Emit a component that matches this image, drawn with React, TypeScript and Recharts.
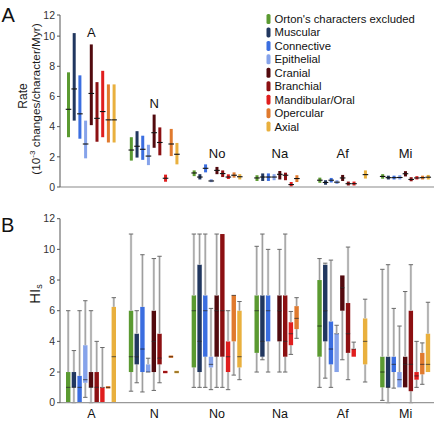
import React from 'react';
import { ComposedChart, Bar, XAxis, YAxis, ReferenceDot } from 'recharts';

// ---------- categories & series ----------
const GROUPS = ['A', 'N', 'No', 'Na', 'Af', 'Mi'];
const SERIES = [
  "Orton's characters excluded",
  'Muscular',
  'Connective',
  'Epithelial',
  'Cranial',
  'Branchial',
  'Mandibular/Oral',
  'Opercular',
  'Axial',
];
const COLORS = ['#5b9a31', '#21375f', '#3b6ee0', '#86a3ea', '#520a0e', '#8c1012', '#e01e1e', '#e07a2e', '#e9b03e'];

// ---------- panel A: rate [min, median, max] per group ----------
type R3 = [number, number, number] | null;
const rateOrton: R3[] = [[3.3, 5.15, 7.6], [1.75, 2.45, 3.3], [0.72, 0.93, 1.1], [0.4, 0.6, 0.78], [0.28, 0.45, 0.62], [0.55, 0.7, 0.85]];
const rateMuscular: R3[] = [[4.4, 6.5, 10.2], [1.95, 2.7, 3.7], [0.5, 0.66, 0.85], [0.4, 0.66, 0.9], [0.15, 0.3, 0.45], [0.5, 0.62, 0.75]];
const rateConnective: R3[] = [[3.2, 4.85, 7.4], [1.8, 2.5, 3.4], [0.97, 1.24, 1.5], [0.4, 0.66, 0.9], [0.3, 0.45, 0.6], [0.5, 0.62, 0.75]];
const rateEpithelial: R3[] = [[1.9, 2.85, 4.4], [1.45, 2.05, 2.8], [0.32, 0.4, 0.52], [0.45, 0.66, 0.85], [0.2, 0.32, 0.45], [0.5, 0.63, 0.78]];
const rateCranial: R3[] = [[4.1, 6.2, 9.45], [2.6, 3.6, 4.8], [0.85, 1.1, 1.33], [0.5, 0.84, 1.06], [0.4, 0.6, 0.8], [0.7, 0.88, 1.05]];
const rateBranchial: R3[] = [[3.0, 4.55, 6.95], [2.1, 2.95, 3.95], [0.66, 0.89, 1.1], [0.45, 0.78, 0.95], [0.1, 0.22, 0.36], [0.38, 0.5, 0.65]];
const rateMandibular: R3[] = [[3.3, 5.0, 7.7], [0.35, 0.58, 0.82], [0.53, 0.66, 0.84], [0.0, 0.16, 0.33], [0.1, 0.22, 0.36], [0.5, 0.6, 0.72]];
const rateOpercular: R3[] = [[2.95, 4.45, 6.8], [2.05, 2.85, 3.85], [0.62, 0.78, 0.97], [0.33, 0.56, 0.78], null, [0.5, 0.62, 0.75]];
const rateAxial: R3[] = [[2.95, 4.45, 6.8], [1.5, 2.17, 2.92], [0.5, 0.68, 0.85], null, [0.56, 0.82, 1.1], [0.5, 0.65, 0.8]];
const RATE_SERIES = [rateOrton, rateMuscular, rateConnective, rateEpithelial, rateCranial, rateBranchial, rateMandibular, rateOpercular, rateAxial];
const RATE_TICKS = [0, 2, 4, 6, 8, 10];

// ---------- panel B: HIs [min, q1, median, q3, max] per group ----------
type R5 = [number, number, number, number, number] | null;
const hiOrton: R5[] = [[0, 0, 1, 2, 6], [0.75, 2, 3, 6, 11], [1, 2.3, 6, 7, 11], [2, 3.25, 6, 7, 10.2], [1, 3, 5, 8, 9.4], [0.15, 1, 2, 3, 8.7]];
const hiMuscular: R5[] = [[0, 1, 1, 2, 3.4], [1.3, 2.5, 3, 4.5, 6], [1, 2, 4, 9, 11], [2.8, 3, 4, 7, 11], [1.6, 4, 6, 9, 9.1], [0, 1, 1, 3, 9]];
const hiConnective: R5[] = [[0, 0, 1, 1.75, 6], [0.7, 2, 3.5, 6.25, 9.65], [1, 3, 6, 7, 11], [2, 4, 6, 7, 10], [1, 2.5, 3.5, 5.3, 9.3], [0.95, 2, 2.5, 3, 6.15]];
const hiEpithelial: R5[] = [[0.35, 1.3, 1.5, 3.75, 6.65], [2, 2, 2, 2.5, 2.9], [0.85, 2.3, 2.5, 3, 6.15], null, [2, 2, 4.5, 4.5, 5.05], [1, 1, 1.5, 2, 5]];
const hiCranial: R5[] = [[0, 1, 1, 2, 6], [0.8, 2, 4, 6, 9.4], [1, 3, 6, 7, 11], [2, 4, 6, 7, 10], [2.8, 6, 7.5, 8.3, 8.3], [1, 1, 2.5, 3, 7.25]];
const hiBranchial: R5[] = [[0, 0, 1, 2, 4], [1.3, 2.5, 2.9, 4.5, 9.55], [1, 3, 6, 11, 11], [2, 3, 4, 7, 11], [1.5, 3.25, 4.5, 6.5, 10.15], [0, 0.75, 2.5, 6, 9]];
const hiMandibular: R5[] = [[0, 0, 1, 1, 3.6], [2, 2, 2, 2, 2], [0.85, 2, 3, 4, 6], [3.15, 3.75, 4.5, 5.25, 5.95], [3, 3, 3.5, 3.5, 3.95], [1, 1.5, 1.75, 2, 4]];
const hiOpercular: R5[] = [[1, 1, 1, 1, 1], [3, 3, 3, 3, 3], [1.8, 4, 7, 7, 7], [4.2, 4.8, 5.5, 6.3, 6.85], null, [1.2, 1.85, 2.5, 3.25, 3.9]];
const hiAxial: R5[] = [[0, 0, 3, 6.25, 6.85], [2, 2, 2, 2, 2], [1.5, 2.3, 3, 6, 6.6], null, [1.35, 2.5, 4, 5.5, 6.75], [2, 2, 2.5, 4.5, 6.55]];
const HI_SERIES = [hiOrton, hiMuscular, hiConnective, hiEpithelial, hiCranial, hiBranchial, hiMandibular, hiOpercular, hiAxial];
const HI_TICKS = [0, 2, 4, 6, 8, 10, 12];

// ---------- layout constants ----------
const FONT = '"Liberation Sans", Arial, Helvetica, sans-serif';
const TOP_MAX = 11.4; // axis end of panel A (labelled 12 in the original)
const LABEL_FLOOR = 1.45;
const CENTER_SERIES = 4;

// ---------- rows built for the library ----------
const rateRows = GROUPS.map((g, gi) => {
  const row: any = { group: g };
  RATE_SERIES.forEach((arr, i) => {
    const v = arr[gi];
    row[`has${i}`] = !!v;
    row[`tb${i}`] = v ? v[0] : 0;
    row[`tl${i}`] = v ? v[1] - v[0] : 0;
    row[`tu${i}`] = v ? v[2] - v[1] : 0;
  });
  const c = RATE_SERIES[CENTER_SERIES][gi];
  row.labelAt = Math.max(c ? c[2] : 0, LABEL_FLOOR);
  return row;
});

const hiRows = GROUPS.map((g, gi) => {
  const row: any = { group: g };
  HI_SERIES.forEach((arr, i) => {
    const v = arr[gi];
    row[`has${i}`] = !!v;
    row[`b${i}`] = v ? v[0] : 0;
    row[`wl${i}`] = v ? v[1] - v[0] : 0;
    row[`bl${i}`] = v ? v[2] - v[1] : 0;
    row[`bu${i}`] = v ? v[3] - v[2] : 0;
    row[`wu${i}`] = v ? v[4] - v[3] : 0;
  });
  return row;
});

// ---------- shapes ----------
const Empty = () => <g />;

const rangeLower = (i: number) => (p: any) => {
  if (!p.payload || !p.payload[`has${i}`]) return <g />;
  return <rect x={p.x} y={p.y} width={p.width} height={Math.max(p.height, 0)} fill={COLORS[i]} />;
};
const rangeUpper = (i: number) => (p: any) => {
  if (!p.payload || !p.payload[`has${i}`]) return <g />;
  const yMed = p.y + p.height;
  return (
    <g>
      <rect x={p.x} y={p.y} width={p.width} height={Math.max(p.height, 0)} fill={COLORS[i]} />
      <line x1={p.x - 1.3} x2={p.x + p.width + 1.3} y1={yMed} y2={yMed} stroke="#111" strokeWidth={1.1} />
    </g>
  );
};

const whisker = (i: number, capAtTop: boolean) => (p: any) => {
  if (!p.payload || !p.payload[`has${i}`]) return <g />;
  const h = Math.max(p.height, 0);
  if (h < 0.5) return <g />;
  const cx = p.x + p.width / 2;
  const capY = capAtTop ? p.y : p.y + h;
  return (
    <g>
      <rect x={cx - 1.2} y={p.y} width={2.4} height={h} fill="#d4d4d4" />
      <line x1={cx} x2={cx} y1={p.y} y2={p.y + h} stroke="#808080" strokeWidth={0.7} />
      <line x1={cx - 2.2} x2={cx + 2.2} y1={capY} y2={capY} stroke="#6a6a6a" strokeWidth={1} />
    </g>
  );
};

const boxLower = (i: number) => (p: any) => {
  if (!p.payload || !p.payload[`has${i}`]) return <g />;
  return <rect x={p.x} y={p.y} width={p.width} height={Math.max(p.height, 0)} fill={COLORS[i]} />;
};
const boxUpper = (i: number) => (p: any) => {
  if (!p.payload || !p.payload[`has${i}`]) return <g />;
  const h = Math.max(p.height, 0);
  const yMed = p.y + h;
  const flat = h < 0.5 && p.payload[`bl${i}`] === 0;
  return (
    <g>
      {flat ? (
        <rect x={p.x} y={yMed - 1.2} width={p.width} height={2.4} fill={COLORS[i]} />
      ) : (
        <rect x={p.x} y={p.y} width={p.width} height={h} fill={COLORS[i]} />
      )}
      <line x1={p.x} x2={p.x + p.width} y1={yMed} y2={yMed} stroke="#000" strokeOpacity={0.6} strokeWidth={1} />
    </g>
  );
};

// ---------- axis labels ----------
const RateLabel = () => (
  <g fontFamily={FONT} fill="#1a1a1a">
    <text transform="translate(22.5,96) rotate(-90)" textAnchor="middle" dominantBaseline="central" fontSize={12}>
      Rate
    </text>
    <text transform="translate(35.5,99) rotate(-90)" textAnchor="middle" dominantBaseline="central" fontSize={11.8}>
      (10<tspan fontSize={8} dy={-4}>-3</tspan>
      <tspan dy={4}> changes/character/Myr)</tspan>
    </text>
  </g>
);

const HiLabel = () => (
  <g fontFamily={FONT} fill="#1a1a1a">
    <text transform="translate(34.5,94) rotate(-90)" textAnchor="middle" dominantBaseline="central" fontSize={15}>
      HI<tspan fontSize={9} dy={4}>s</tspan>
    </text>
  </g>
);

const tickStyle = { fontSize: 10.5, fill: '#333', fontFamily: FONT };

export default function App() {
  return (
    <div
      style={{
        position: 'absolute',
        left: 0,
        top: 0,
        width: 434,
        height: 421,
        overflow: 'hidden',
        background: '#fff',
        fontFamily: FONT,
      }}
    >
      {/* Panel A */}
      <div style={{ position: 'absolute', left: 0, top: 0 }}>
        <ComposedChart
          width={440}
          height={200}
          data={rateRows}
          margin={{ top: 15, right: 3, bottom: 12, left: 0 }}
          barGap={2.7}
        >
          <XAxis dataKey="group" height={1} tick={false} tickLine={false} axisLine={{ stroke: '#b0b0b0', strokeWidth: 1.5 }} />
          <YAxis
            width={60}
            domain={[0, TOP_MAX]}
            ticks={[...RATE_TICKS, TOP_MAX]}
            tickFormatter={(v: number) => (v === TOP_MAX ? '12' : String(v))}
            tick={tickStyle}
            tickSize={3}
            tickMargin={2}
            axisLine={{ stroke: '#555' }}
            tickLine={{ stroke: '#555' }}
            allowDataOverflow
            label={RateLabel}
          />
          {SERIES.map((_, i) => [
            <Bar key={`tb${i}`} dataKey={`tb${i}`} stackId={`s${i}`} barSize={3} shape={Empty} isAnimationActive={false} />,
            <Bar key={`tl${i}`} dataKey={`tl${i}`} stackId={`s${i}`} barSize={3} shape={rangeLower(i)} isAnimationActive={false} />,
            <Bar key={`tu${i}`} dataKey={`tu${i}`} stackId={`s${i}`} barSize={3} shape={rangeUpper(i)} isAnimationActive={false} />,
          ])}
          {rateRows.map((r) => (
            <ReferenceDot
              key={`lab-${r.group}`}
              x={r.group}
              y={r.labelAt}
              r={0}
              ifOverflow="visible"
              shape={(p: any) => (
                <text x={p.cx} y={p.cy - 7} textAnchor="middle" fontSize={13} fill="#111" fontFamily={FONT}>
                  {r.group}
                </text>
              )}
            />
          ))}
        </ComposedChart>
      </div>

      {/* Panel B */}
      <div style={{ position: 'absolute', left: 0, top: 200 }}>
        <ComposedChart
          width={440}
          height={221}
          data={hiRows}
          margin={{ top: 18.7, right: 3, bottom: 0.3, left: 0 }}
          barGap={1.3}
        >
          <XAxis
            dataKey="group"
            height={18}
            tickLine={false}
            tickSize={0}
            tickMargin={6.5}
            tick={{ fontSize: 12.5, fill: '#111', fontFamily: FONT }}
            axisLine={{ stroke: '#999', strokeWidth: 1.2 }}
          />
          <YAxis
            width={60}
            domain={[0, 12]}
            ticks={HI_TICKS}
            tick={tickStyle}
            tickSize={3}
            tickMargin={2}
            axisLine={{ stroke: '#555' }}
            tickLine={{ stroke: '#555' }}
            label={HiLabel}
          />
          {SERIES.map((_, i) => [
            <Bar key={`b${i}`} dataKey={`b${i}`} stackId={`h${i}`} barSize={4.4} shape={Empty} isAnimationActive={false} />,
            <Bar key={`wl${i}`} dataKey={`wl${i}`} stackId={`h${i}`} barSize={4.4} shape={whisker(i, false)} isAnimationActive={false} />,
            <Bar key={`bl${i}`} dataKey={`bl${i}`} stackId={`h${i}`} barSize={4.4} shape={boxLower(i)} isAnimationActive={false} />,
            <Bar key={`bu${i}`} dataKey={`bu${i}`} stackId={`h${i}`} barSize={4.4} shape={boxUpper(i)} isAnimationActive={false} />,
            <Bar key={`wu${i}`} dataKey={`wu${i}`} stackId={`h${i}`} barSize={4.4} shape={whisker(i, true)} isAnimationActive={false} />,
          ])}
        </ComposedChart>
      </div>

      {/* Panel letters and legend */}
      <svg
        width={434}
        height={421}
        style={{ position: 'absolute', left: 0, top: 0, pointerEvents: 'none' }}
        fontFamily={FONT}
      >
        <text x={1.5} y={21.7} fontSize={20} fill="#111">A</text>
        <text x={1} y={231.7} fontSize={20} fill="#111">B</text>
        {SERIES.map((name, i) => (
          <g key={name}>
            <rect x={266.5} y={19 + i * 13.45 - 5} width={4} height={10} rx={1.6} fill={COLORS[i]} />
            <text x={274.5} y={19 + i * 13.45} dominantBaseline="central" fontSize={11.3} fill="#111">
              {name}
            </text>
          </g>
        ))}
      </svg>
    </div>
  );
}
